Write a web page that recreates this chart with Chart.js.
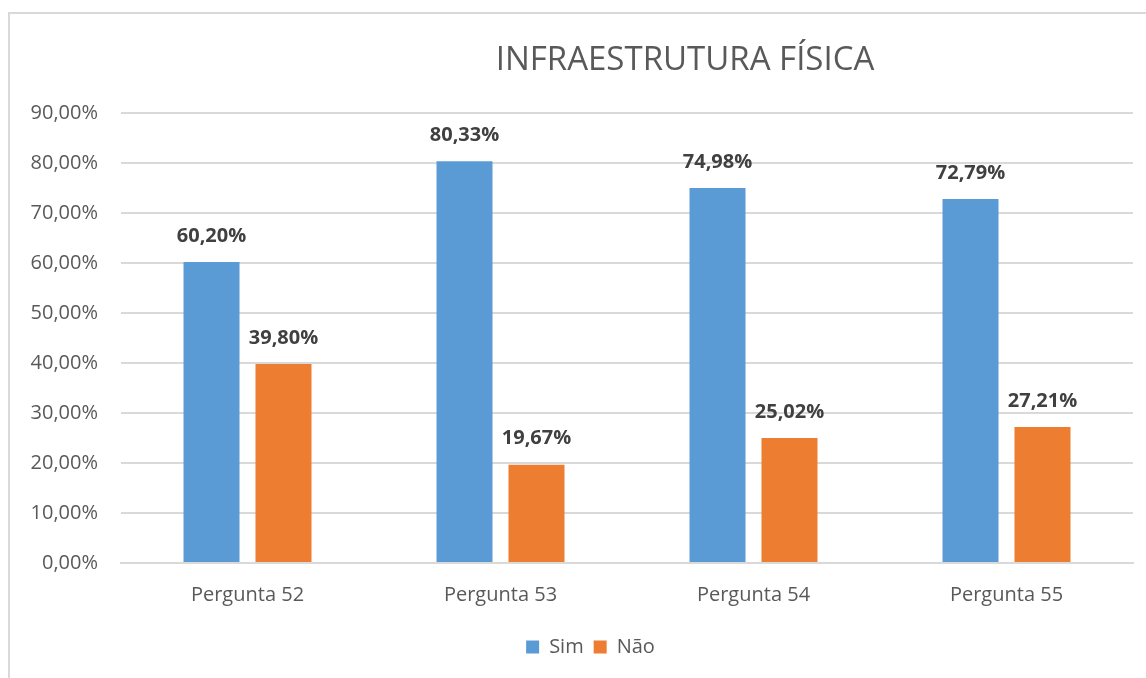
<!DOCTYPE html>
<html>
<head>
<meta charset="utf-8">
<script src="https://cdn.jsdelivr.net/npm/chart.js@4/dist/chart.umd.min.js"></script>
<style>
  html, body { margin: 0; padding: 0; background: #fff; overflow: hidden; }
  #moldura { position: absolute; left: 8px; top: 12px; width: 1160px; height: 700px; border: 2px solid #d9d9d9; }
  #grafico { position: absolute; left: 0; top: 0; }
</style>
</head>
<body>
<div id="moldura"></div>
<canvas id="grafico" width="1146" height="678"></canvas>
<script>
// Dados do gráfico
const titulo = 'INFRAESTRUTURA FÍSICA';
const perguntas = ['Pergunta 52', 'Pergunta 53', 'Pergunta 54', 'Pergunta 55'];
const sim = [60.20, 80.33, 74.98, 72.79];
const nao = [39.80, 19.67, 25.02, 27.21];
const eixoMax = 90;
const eixoPasso = 10;

const fonte = '"Open Sans", "Noto Sans", sans-serif';
const formatar = v => v.toFixed(2).replace('.', ',') + '%';

// Plugin simples para os rótulos em cima das barras
const rotulosBarras = {
    id: 'rotulosBarras',
    afterDatasetsDraw(chart) {
        const ctx = chart.ctx;
        ctx.save();
        ctx.font = 'bold 20px ' + fonte;
        ctx.fillStyle = '#404040';
        ctx.textAlign = 'center';
        ctx.textBaseline = 'middle';
        chart.data.datasets.forEach((ds, i) => {
            chart.getDatasetMeta(i).data.forEach((barra, j) => {
                ctx.fillText(formatar(ds.data[j]), barra.x, barra.y - 26);
            });
        });
        ctx.restore();
    }
};

// Título desenhado à parte (fica deslocado para a direita no original)
const tituloPlugin = {
    id: 'tituloPlugin',
    afterDraw(chart) {
        const ctx = chart.ctx;
        ctx.save();
        ctx.font = '33px ' + fonte;
        ctx.fillStyle = '#595959';
        ctx.textAlign = 'center';
        ctx.textBaseline = 'middle';
        ctx.fillText(titulo, 685, 61);
        ctx.restore();
    }
};

// Empurra a legenda um pouco para a direita, como no original
const ajusteLegenda = {
    id: 'ajusteLegenda',
    afterLayout(chart) {
        chart.legend.left += 24;
        chart.legend.right += 24;
    }
};

new Chart(document.getElementById('grafico').getContext('2d'), {
    type: 'bar',
    data: {
        labels: perguntas,
        datasets: [
            { label: 'Sim', data: sim, backgroundColor: '#5b9bd5' },
            { label: 'Não', data: nao, backgroundColor: '#ed7d31' }
        ]
    },
    options: {
        responsive: false,
        animation: false,
        layout: { padding: { left: 0, right: 13, top: 113, bottom: 11 } },
        datasets: {
            bar: { categoryPercentage: 0.569, barPercentage: 0.778 }
        },
        plugins: {
            title: { display: false },
            tooltip: { enabled: false },
            legend: {
                position: 'bottom',
                labels: {
                    boxWidth: 13,
                    boxHeight: 13,
                    padding: 10,
                    color: '#595959',
                    font: { family: fonte, size: 20 }
                }
            }
        },
        scales: {
            x: {
                grid: { display: false },
                border: { color: '#d9d9d9', width: 2 },
                ticks: { color: '#595959', padding: 12, font: { family: fonte, size: 20 } },
                afterFit: scale => { scale.height = 64; }
            },
            y: {
                min: 0,
                max: eixoMax,
                grid: { color: '#d9d9d9', lineWidth: 2, drawTicks: false },
                border: { display: false },
                ticks: {
                    stepSize: eixoPasso,
                    padding: 23,
                    color: '#595959',
                    font: { family: fonte, size: 20 },
                    callback: v => formatar(v)
                },
                afterFit: scale => { scale.width = 121; }
            }
        }
    },
    plugins: [rotulosBarras, tituloPlugin, ajusteLegenda]
});
</script>
</body>
</html>
